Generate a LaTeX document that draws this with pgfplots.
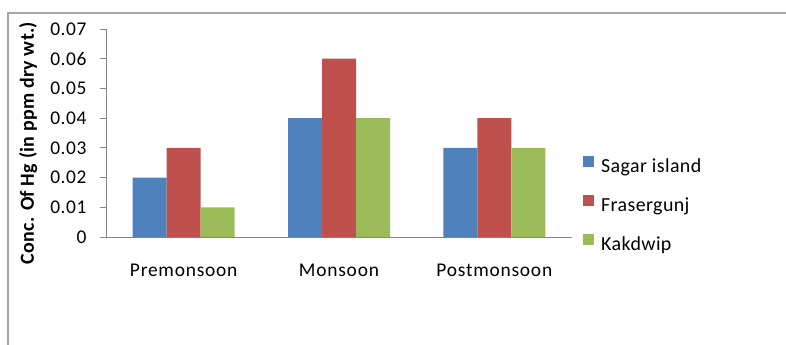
\documentclass[border=0pt]{standalone}
\usepackage{pgfplots}
\pgfplotsset{compat=1.18}
\usepackage{fontspec}
\setmainfont{Carlito}
\definecolor{cblue}{HTML}{4F81BD}
\definecolor{cred}{HTML}{C0504D}
\definecolor{cgreen}{HTML}{9BBB59}
\definecolor{axgray}{HTML}{868686}
\begin{document}
\begin{tikzpicture}[x=1bp,y=1bp]
\path[use as bounding box] (0,0) rectangle (786,344);
\clip (0,0) rectangle (786,344);
\draw[color={rgb,255:red,165;green,165;blue,165}, line width=1.3bp] (8,-5) -- (8,331) -- (800,331);
\begin{axis}[
  at={(106bp,107bp)}, anchor=south west,
  scale only axis, width=466bp, height=208bp,
  xmin=-0.5, xmax=2.5, ymin=0, ymax=0.07,
  ybar=0pt, bar width=34bp,
  axis x line=bottom, axis y line=left,
  axis line style={-, color=axgray, line width=0.8bp},
  xtick={0,1,2},
  xticklabels={Premonsoon,Monsoon,Postmonsoon},
  major x tick style={draw=none},
  extra x ticks={-0.5,0.5,1.5,2.5},
  extra x tick labels={},
  extra x tick style={major tick length=6bp, tick style={color=axgray, line width=0.8bp}, tick align=outside},
  xticklabel style={font=\fontsize{19.5}{22}\selectfont\addfontfeatures{LetterSpace=4}, anchor=base, yshift=-33bp},
  ytick={0,0.01,0.02,0.03,0.04,0.05,0.06,0.07},
  scaled y ticks=false,
  /pgf/number format/assume math mode=true,
  yticklabel={\pgfmathprintnumber[fixed,precision=2]{\tick}},
  yticklabel style={font=\fontsize{19.5}{22}\selectfont\addfontfeatures{LetterSpace=3}, anchor=east, xshift=-10bp},
  ytick style={color=axgray, line width=0.8bp},
  tick align=outside, major tick length=6bp,
  ylabel={\bfseries Conc. Of Hg (in ppm dry wt.)},
  ylabel style={font=\fontsize{20}{22}\selectfont\addfontfeatures{LetterSpace=1.5}, at={(axis description cs:-0.167,0.452)}, anchor=center},
  legend style={draw=none, at={(1,0.15)}, xshift=11bp, anchor=west, inner sep=0pt,
    font=\fontsize{20}{22}\selectfont\addfontfeatures{LetterSpace=2}, row sep=18bp, column sep=7bp,
    nodes={inner sep=0pt, text height=14bp, text depth=5bp},
    legend cell align=left},
  legend image code/.code={\fill[#1] (0bp,0.5bp) rectangle (11bp,11.5bp);},
]
\addplot[fill=cblue, draw=none] coordinates {(0,0.02) (1,0.04) (2,0.03)};
\addplot[fill=cred, draw=none] coordinates {(0,0.03) (1,0.06) (2,0.04)};
\addplot[fill=cgreen, draw=none] coordinates {(0,0.01) (1,0.04) (2,0.03)};
\legend{Sagar island, Frasergunj, Kakdwip}
\end{axis}
\end{tikzpicture}
\end{document}
